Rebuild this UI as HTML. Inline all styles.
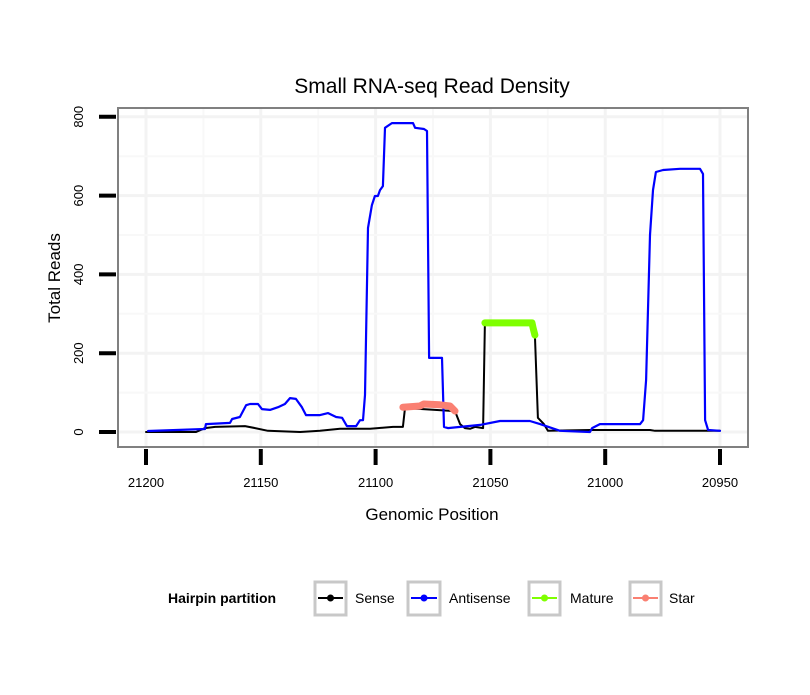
<!DOCTYPE html>
<html><head><meta charset="utf-8"><style>
body{margin:0;background:#fff;}
svg text{font-family:"Liberation Sans",sans-serif;}
</style></head><body>
<svg id="chart" width="810" height="690" xmlns="http://www.w3.org/2000/svg">
<text x="432" y="93" font-size="21" text-anchor="middle">Small RNA-seq Read Density</text>
<rect x="118" y="108" width="630" height="339" fill="#fff" stroke="#808080" stroke-width="2"/>
<g id="grid"></g>
<g id="series"></g>
<g id="axes"></g>
<text x="432" y="520" font-size="17" text-anchor="middle">Genomic Position</text>
<text transform="translate(60,278) rotate(-90)" font-size="17" text-anchor="middle">Total Reads</text>
<g>
<text x="168" y="603" font-size="14" font-weight="bold">Hairpin partition</text>
<g><rect x="315" y="582" width="31" height="33" fill="#fff" stroke="#c8c8c8" stroke-width="3"/><line x1="318" y1="598" x2="343" y2="598" stroke="#000" stroke-width="2"/><circle cx="330.5" cy="598" r="3.5" fill="#000"/><text x="355" y="603" font-size="14">Sense</text></g>
<g><rect x="408" y="582" width="32" height="33" fill="#fff" stroke="#c8c8c8" stroke-width="3"/><line x1="411" y1="598" x2="437" y2="598" stroke="#0000ff" stroke-width="2"/><circle cx="424" cy="598" r="3.5" fill="#0000ff"/><text x="449" y="603" font-size="14">Antisense</text></g>
<g><rect x="529" y="582" width="31" height="33" fill="#fff" stroke="#c8c8c8" stroke-width="3"/><line x1="532" y1="598" x2="557" y2="598" stroke="#7fff00" stroke-width="2"/><circle cx="544.5" cy="598" r="3.5" fill="#7fff00"/><text x="570" y="603" font-size="14">Mature</text></g>
<g><rect x="630" y="582" width="31" height="33" fill="#fff" stroke="#c8c8c8" stroke-width="3"/><line x1="633" y1="598" x2="658" y2="598" stroke="#fa8072" stroke-width="2"/><circle cx="645.5" cy="598" r="3.5" fill="#fa8072"/><text x="669" y="603" font-size="14">Star</text></g>
</g>
</svg>
<script>
const xTicks=[21200,21150,21100,21050,21000,20950];
const yTicks=[0,200,400,600,800];
const antisensePos=[21199.1,21174.3,21173.9,21163.4,21162.5,21159.1,21156.4,21154.7,21151.2,21149.5,21146.0,21142.5,21139.5,21137.3,21134.7,21132.1,21130.3,21124.2,21120.7,21117.2,21114.6,21112.5,21108.5,21106.8,21105.5,21104.6,21103.3,21101.6,21100.3,21099.0,21098.1,21096.8,21095.9,21092.9,21083.7,21082.8,21078.9,21077.6,21076.7,21071.1,21070.2,21068.5,21054.5,21045.8,21032.8,21028.4,21019.7,21006.6,21005.7,21002.3,20984.8,20983.5,20982.2,20980.5,20979.2,20977.9,20974.8,20967.4,20958.7,20957.4,20956.5,20955.2,20950.0];
const antisenseVal=[2.5,7.6,20,23,33,38,68,71,71,58,56,63,71,86,84,63,43,43,48,38,36,15,15,30,30,94,518,576,599,599,614,624,772,784,784,772,769,764,188,188,13,10,18,28,28,20,3,0,10,20,20,30,132,500,614,660,665,668,668,655,30,5,3];
const sensePos=[21200,21178.2,21174.3,21169.9,21156.9,21152.5,21146.9,21132.9,21124.2,21115.5,21102.4,21099.0,21092.4,21088.1,21087.2,21065.4,21063.2,21061.1,21058.9,21056.7,21053.2,21052.4,21031.9,21030.6,21029.3,21026.7,21024.9,21006.6,20980.5,20978.3,20950];
const senseVal=[0,0,10,13,15,10,3,0,3,8,8,10,13,13,61,53,20,10,8,13,10,277,277,246,36,20,3,5,5,3,3];
const maturePos=[21052.4,21031.9,21031.4,21030.6];
const matureVal=[277,277,264,246];
const starPos=[21088.1,21080.7,21079.0,21072.0,21067.6,21065.4];
const starVal=[63,66,71,69,66,53];
const NS='http://www.w3.org/2000/svg';
const x=p=>146+(21200-p)*2.296;
const y=v=>432-v*0.394;
const grid=document.getElementById('grid'),axes=document.getElementById('axes'),series=document.getElementById('series');
function mk(tag,attrs,parent){const e=document.createElementNS(NS,tag);for(const k in attrs)e.setAttribute(k,attrs[k]);parent.appendChild(e);return e;}
for(let i=0;i<xTicks.length;i++){
  const px=x(xTicks[i]);
  const g=mk('line',{x1:px,x2:px,y1:109,y2:446,stroke:'#f3f3f3','stroke-width':3},grid);
  
  
  if(i<xTicks.length-1){const m=mk('line',{x1:(px+x(xTicks[i+1]))/2,x2:(px+x(xTicks[i+1]))/2,y1:109,y2:446,stroke:'#f8f8f8','stroke-width':2},grid);
  
  }
  const t=mk('line',{x1:px,x2:px,y1:449,y2:465,stroke:'#000','stroke-width':4},axes);
  
  
  const l=mk('text',{x:px,y:487,'font-size':13,'text-anchor':'middle'},axes);
  l.textContent=xTicks[i];
  
  
}
for(let i=0;i<yTicks.length;i++){
  const py=y(yTicks[i]);
  const g=mk('line',{x1:119,x2:747,y1:py,y2:py,stroke:'#f3f3f3','stroke-width':3},grid);
  
  
  if(i<yTicks.length-1){const my=(py+y(yTicks[i+1]))/2;const m=mk('line',{x1:119,x2:747,y1:my,y2:my,stroke:'#f8f8f8','stroke-width':2},grid);
  
  }
  const t=mk('line',{x1:99,x2:116,y1:py,y2:py,stroke:'#000','stroke-width':4},axes);
  
  
  const l=mk('text',{x:0,y:0,'font-size':13,'text-anchor':'middle',transform:`translate(83,${py}) rotate(-90)`},axes);
  l.textContent=yTicks[i];
  
  
}
function path(ps,vs,color,w,name){
  const d=ps.map((p,i)=>(i?'L':'M')+x(p).toFixed(1)+','+y(vs[i]).toFixed(1)).join('');
  const e=mk('path',{d:d,fill:'none',stroke:color,'stroke-width':w,'stroke-linejoin':'round','stroke-linecap':'round'},series);
  
  
}
path(sensePos,senseVal,'#000',2,'sense-line');
path(antisensePos,antisenseVal,'#0000ff',2.2,'antisense-line');
path(maturePos,matureVal,'#7fff00',7,'mature-line');
path(starPos,starVal,'#fa8072',7,'star-line');
</script>
</body></html>
